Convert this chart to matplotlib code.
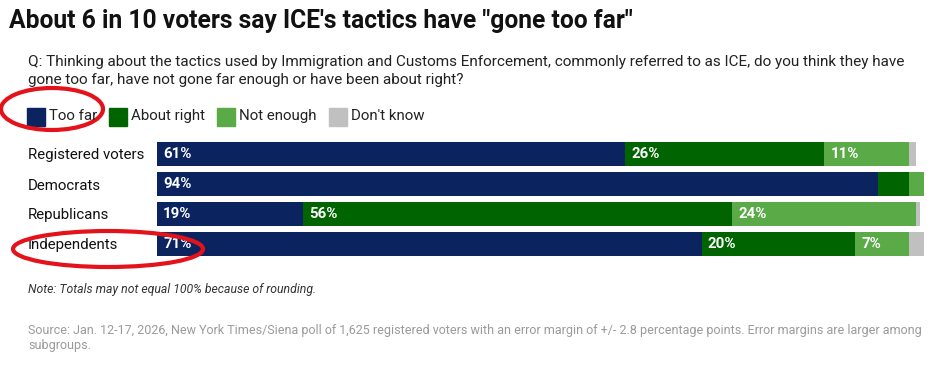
import matplotlib.pyplot as plt
from matplotlib.patches import Rectangle, Ellipse

plt.rcParams['font.family'] = ['Roboto', 'DejaVu Sans']

# data
groups = ["Registered voters", "Democrats", "Republicans", "Independents"]
series = ["Too far", "About right", "Not enough", "Don't know"]
too_far = [61, 94, 19, 71]
about_right = [26, 4, 56, 20]
not_enough = [11, 2, 24, 7]
dont_know = [1, 0, 0.5, 2]
colors = ["#0b235f", "#006400", "#5aaa48", "#c0c0c0"]

title = "About 6 in 10 voters say ICE's tactics have \"gone too far\""
question = ("Q: Thinking about the tactics used by Immigration and Customs Enforcement, commonly referred to as ICE, do you think they have\n"
            "gone too far, have not gone far enough or have been about right?")
note = "Note: Totals may not equal 100% because of rounding."
source = ("Source: Jan. 12-17, 2026, New York Times/Siena poll of 1,625 registered voters with an error margin of +/- 2.8 percentage points. Error margins are larger among\n"
          "subgroups.")

W, H = 951, 381
fig = plt.figure(figsize=(W / 100, H / 100), dpi=100)


def fx(x):
    return x / W


def fy(y):
    return 1 - y / H


fig.text(fx(9), fy(21), title, fontsize=17.7, fontweight='bold', color='#111111', va='center')
fig.text(fx(28), fy(71), question, fontsize=11.0, color='#222222', va='center', linespacing=1.36)

# legend drawn by hand
fig.canvas.draw()
renderer = fig.canvas.get_renderer()
x = 27
for name, c in zip(series, colors):
    fig.patches.append(Rectangle((fx(x), fy(126)), fx(18), 18 / H, color=c, transform=fig.transFigure))
    t = fig.text(fx(x + 22), fy(116), name, fontsize=10.8, color='#222222', va='center')
    w = t.get_window_extent(renderer).width
    x = x + 22 + w + 12

# bars
ax = fig.add_axes([fx(157), fy(259), fx(767), 120 / H])
values = [too_far, about_right, not_enough, dont_know]
left = [0] * len(groups)
for vals, c in zip(values, colors):
    ax.barh(range(len(groups)), vals, left=left, color=c, height=0.81)
    for i, v in enumerate(vals):
        if v >= 5:
            ax.text(left[i] + 0.8, i, f"{v:g}%", color='white', fontsize=10.8,
                    fontweight='bold', va='center', ha='left')
    left = [l + v for l, v in zip(left, vals)]

ax.set_xlim(0, 100)
ax.set_ylim(3.5, -0.5)
ax.set_yticks(range(len(groups)))
ax.set_yticklabels(groups, fontsize=10.8, color='#111111')
for lab in ax.get_yticklabels():
    lab.set_horizontalalignment('left')
ax.tick_params(axis='y', length=0, pad=(157 - 28) * 0.72)
ax.set_xticks([])
for s in ax.spines.values():
    s.set_visible(False)

fig.text(fx(28), fy(290), note, fontsize=8.8, style='italic', color='#333333', va='center')
fig.text(fx(28), fy(338), source, fontsize=9.0, color='#9a9a9a', va='center', linespacing=1.25)

# red hand-drawn circles
red = '#e3121b'
fig.patches.append(Ellipse((fx(52), fy(109)), fx(102), 42 / H, fill=False, ec=red, lw=3,
                           transform=fig.transFigure))
fig.patches.append(Ellipse((fx(108), fy(249)), fx(190), 36 / H, fill=False, ec=red, lw=3,
                           transform=fig.transFigure))

fig.savefig("out.png", dpi=100)
